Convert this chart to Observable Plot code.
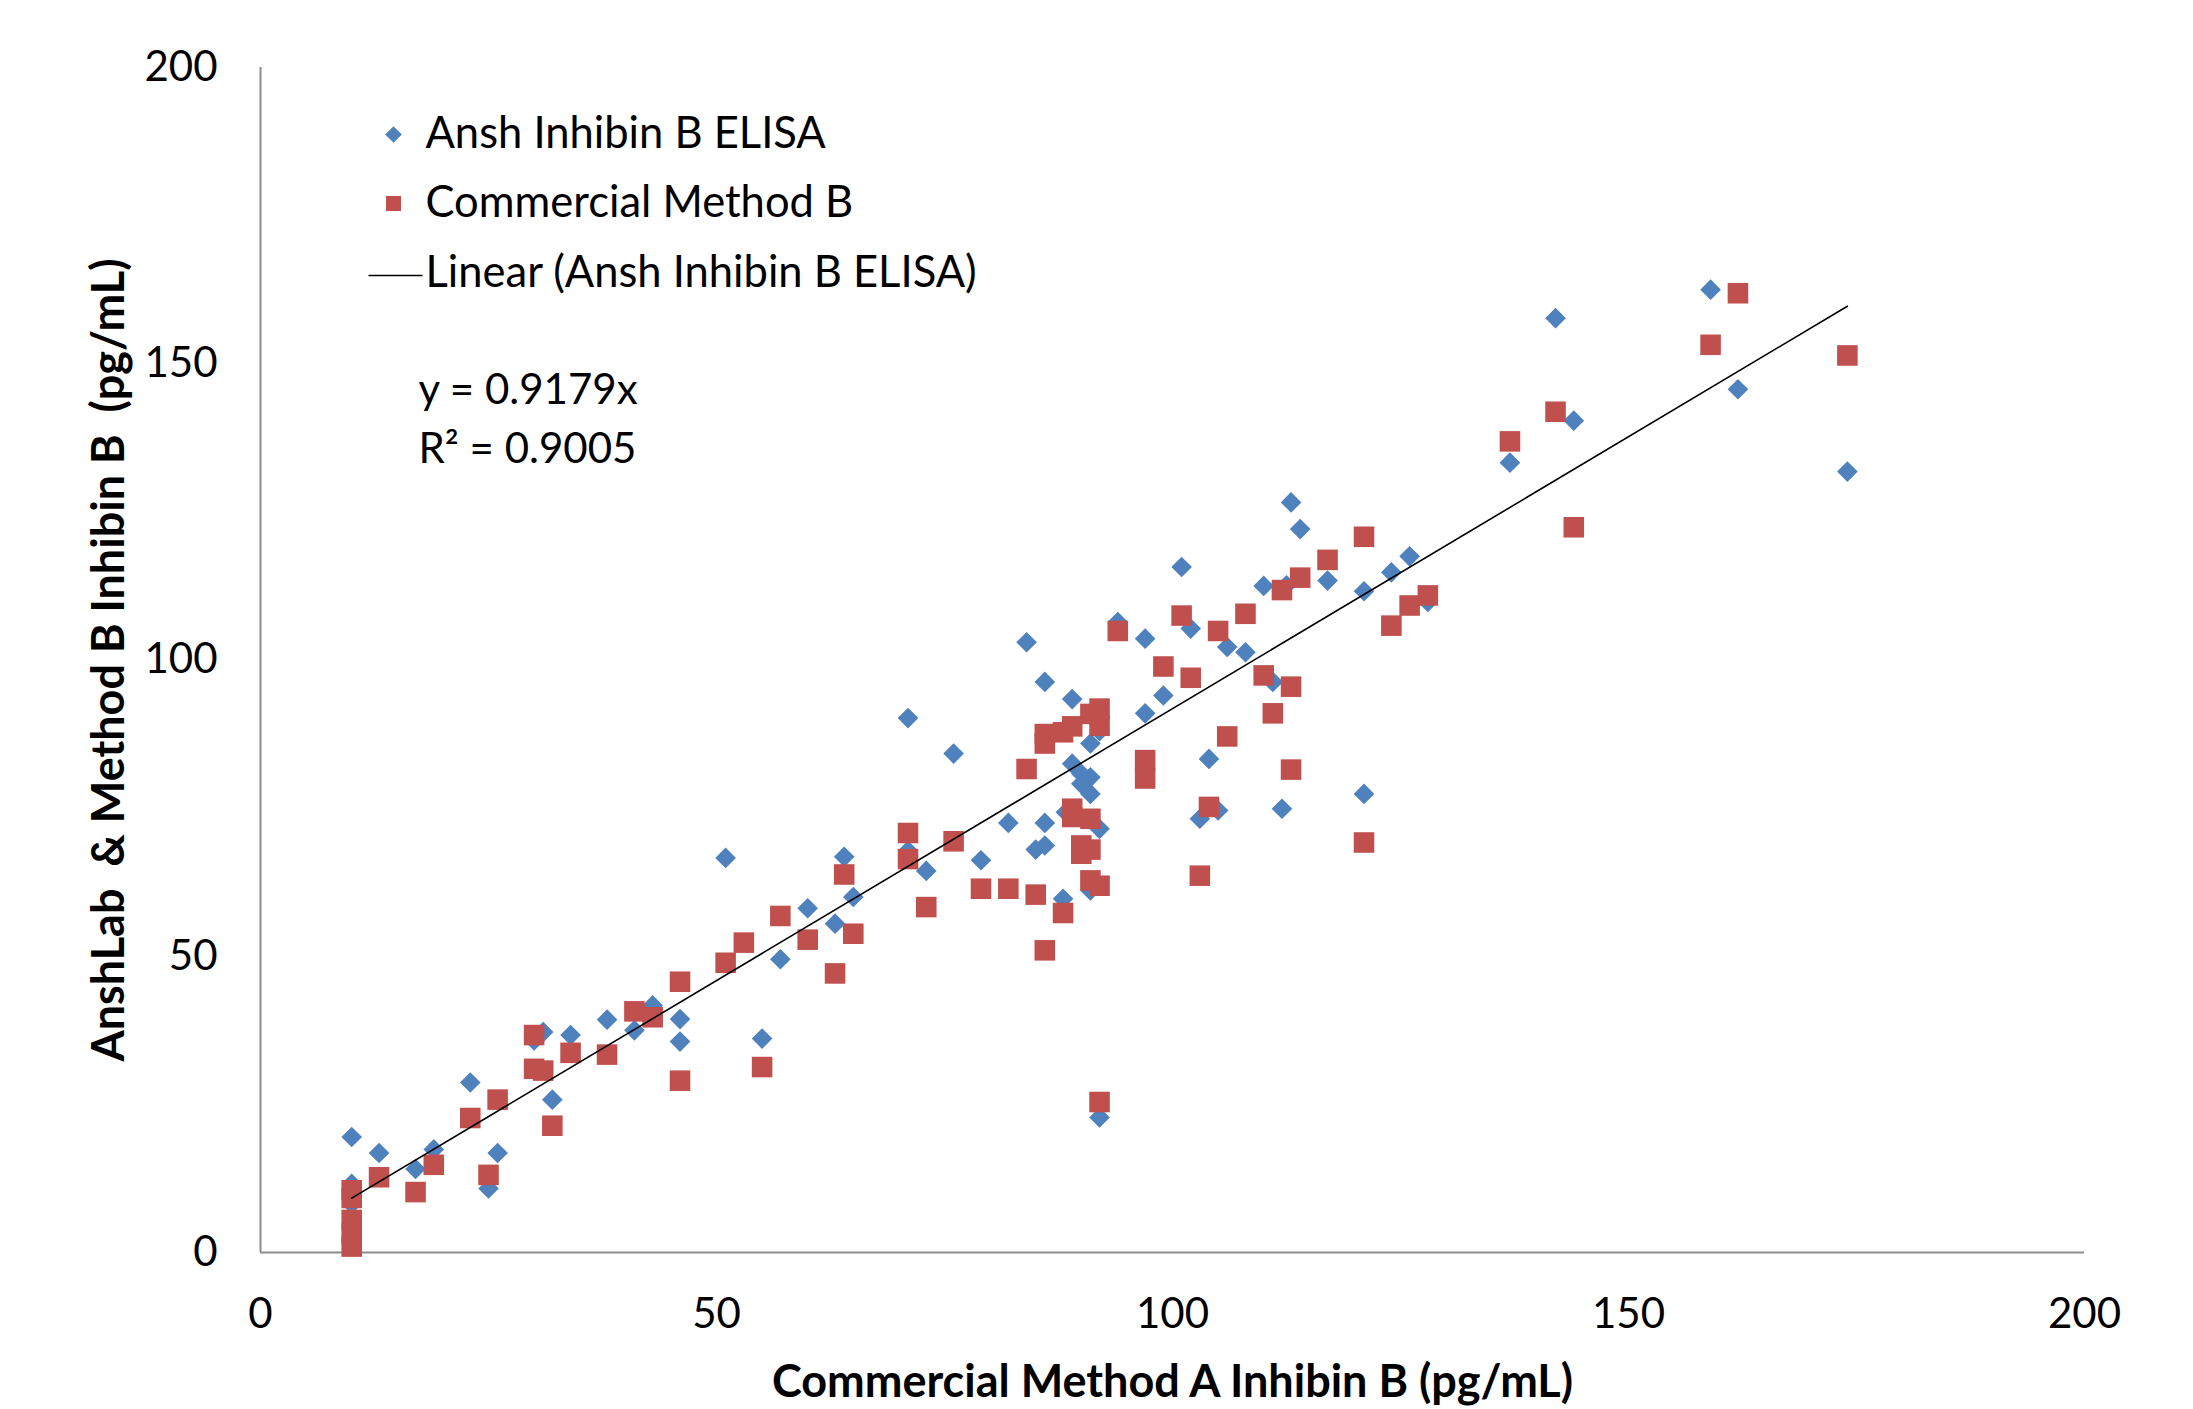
<!DOCTYPE html>
<html>
<head>
<meta charset="utf-8">
<script src="https://cdn.jsdelivr.net/npm/d3@7"></script>
<script src="https://cdn.jsdelivr.net/npm/@observablehq/plot@0.6"></script>
<style>
  html, body { margin: 0; padding: 0; background: #ffffff; }
  #chart svg { display: block; }
</style>
</head>
<body>
<div id="chart"></div>
<script>
// ---- Data ----
const anshX = [10,10,10,13,17,19,23,25,26,30,31,32,34,38,41,43,46,46,51,55,57,60,63,64,65,71,71,73,76,79,82,84,85,86,86,86,88,88.3,89,89,90,90,91,91,91,91,92,92,92,94,97,97,99,101,102,103,104,105,106,108,110,111,112,112.5,113,114,117,121,121,124,126,128,137,142,144,159,162,174];
const anshY = [19.5,11.6,8.2,16.8,14.1,17.4,28.7,10.8,16.8,35.8,37.2,25.8,36.7,39.3,37.5,41.7,39.4,35.6,66.6,36.1,49.5,58.1,55.5,66.8,60,90.2,67.8,64.4,84.2,66.2,72.5,103,68,96.3,72.5,68.7,59.7,74.3,93.4,82.5,80.8,79.1,85.9,80.2,77.4,61.1,88,71.5,22.8,106.4,103.6,91,94,115.7,105.3,73.2,83.3,74.6,102.2,101.3,112.5,96.3,74.9,112.6,126.6,122.1,113.4,111.6,77.4,114.8,117.5,109.8,133.3,157.7,140.4,162.5,145.7,131.8];

const commX = [10,10,10,10,10,13,17,19,23,25,26,30,30,31,32,34,38,41,43,46,46,51,53,55,57,60,63,64,65,71,71,73,76,79,82,84,85,86,86,86,88,88,89,89,89,90,90,91,91,91,91,92,92,92,92,94,97,97,99,101,102,103,104,105,106,108,110,111,112,113,113,114,117,121,121,124,126,128,137,142,144,159,162,174];
const commY = [10.5,9.2,5.5,3.2,1.0,12.7,10.2,14.8,22.7,13.1,25.8,36.7,31,30.7,21.4,33.7,33.4,40.7,39.7,45.7,29,48.9,52.3,31.3,56.8,52.8,47.1,63.8,53.8,70.8,66.4,58.3,69.4,61.4,61.4,81.6,60.4,87.5,85.9,51,87.8,57.3,88.8,74.9,73.5,68.7,67.3,90.9,73.2,68,62.8,91.8,88.9,61.9,25.4,104.9,83.1,80,98.9,107.5,97,63.6,75.2,104.9,87.1,107.8,97.4,91,111.8,95.5,81.5,113.9,116.9,120.8,69.2,105.8,109.2,110.9,136.9,141.9,122.4,153.2,161.9,151.4];

const trendSlope = 0.9179;
const trendR2 = 0.9005;

const xTicks = [0, 50, 100, 150, 200];
const yTicks = [0, 50, 100, 150, 200];

const seriesNames = ["Ansh Inhibin B ELISA", "Commercial Method B", "Linear (Ansh Inhibin B ELISA)"];
const xTitle = "Commercial Method A Inhibin B (pg/mL)";
const yTitle = "AnshLab\u00a0 & Method B Inhibin B\u00a0 (pg/mL)";

// ---- Tables built from the arrays ----
const ansh = anshX.map((x, i) => ({x, y: anshY[i]}));
const comm = commX.map((x, i) => ({x, y: commY[i]}));
const [tx0, tx1] = d3.extent(anshX);
const trend = [tx0, tx1].map(x => ({x, y: trendSlope * x}));

const BLUE = "#4F81BD";
const RED = "#C0504D";
const FONT = "Lato, 'Open Sans', sans-serif";
const FS = 42;
const LFS = 43.5;
const TFS = 45;

const lineSymbol = {
  draw(context, size) {
    context.moveTo(-27, 0);
    context.lineTo(27, 0);
  }
};

const chart = Plot.plot({
  width: 2193,
  height: 1409,
  marginLeft: 260,
  marginRight: 109,
  marginTop: 67,
  marginBottom: 157,
  style: {fontFamily: FONT, fontSize: FS + "px", background: "#ffffff", color: "#000000"},
  x: {domain: [0, 200]},
  y: {domain: [0, 200]},
  marks: [
    Plot.axisX({ticks: xTicks, tickSize: 0, tickPadding: 46, label: null, fontSize: FS, tickFormat: d3.format("d")}),
    Plot.axisY({ticks: yTicks, tickSize: 0, tickPadding: 43, label: null, fontSize: FS, tickFormat: d3.format("d")}),
    Plot.ruleX([0], {stroke: "#8c8c8c", strokeWidth: 2}),
    Plot.ruleY([0], {stroke: "#8c8c8c", strokeWidth: 2}),
    Plot.dot(ansh, {x: "x", y: "y", symbol: "diamond2", r: 9.3, fill: BLUE, stroke: null}),
    Plot.dot(comm, {x: "x", y: "y", symbol: "square", r: 11.6, fill: RED, stroke: null}),
    Plot.line(trend, {x: "x", y: "y", stroke: "#000000", strokeWidth: 1.6}),
    // legend
    Plot.dot([seriesNames[0]], {frameAnchor: "top-left", dx: 133, dy: 67, symbol: "diamond2", r: 7.5, fill: BLUE}),
    Plot.dot([seriesNames[1]], {frameAnchor: "top-left", dx: 133, dy: 136, symbol: "square", r: 8.5, fill: RED}),
    Plot.dot([seriesNames[2]], {frameAnchor: "top-left", dx: 135, dy: 208, symbol: lineSymbol, stroke: "#000000", strokeWidth: 1.6, fill: "none"}),
    Plot.text([seriesNames[0]], {frameAnchor: "top-left", dx: 165, dy: 67, text: d => d, textAnchor: "start", lineAnchor: "middle", fontSize: LFS, fill: "#000000"}),
    Plot.text([seriesNames[1]], {frameAnchor: "top-left", dx: 165, dy: 136, text: d => d, textAnchor: "start", lineAnchor: "middle", fontSize: LFS, fill: "#000000"}),
    Plot.text([seriesNames[2]], {frameAnchor: "top-left", dx: 165, dy: 206, text: d => d, textAnchor: "start", lineAnchor: "middle", fontSize: LFS, fill: "#000000"}),
    // trend equation
    Plot.text([`y = ${trendSlope}x`], {frameAnchor: "top-left", dx: 158, dy: 323, text: d => d, textAnchor: "start", lineAnchor: "middle", fontSize: FS, fill: "#000000"}),
    Plot.text([`R² = ${trendR2.toFixed(4)}`], {frameAnchor: "top-left", dx: 158, dy: 382, text: d => d, textAnchor: "start", lineAnchor: "middle", fontSize: FS, fill: "#000000"}),
    // axis titles
    Plot.text([xTitle], {frameAnchor: "bottom", dy: 130, text: d => d, textAnchor: "middle", lineAnchor: "middle", fontSize: TFS, fontWeight: "bold", fill: "#000000"}),
    Plot.text([yTitle], {frameAnchor: "left", dx: -151, rotate: -90, text: d => d, textAnchor: "middle", lineAnchor: "middle", fontSize: TFS, fontWeight: "bold", fill: "#000000"})
  ]
});

document.getElementById("chart").appendChild(chart);
</script>
</body>
</html>
